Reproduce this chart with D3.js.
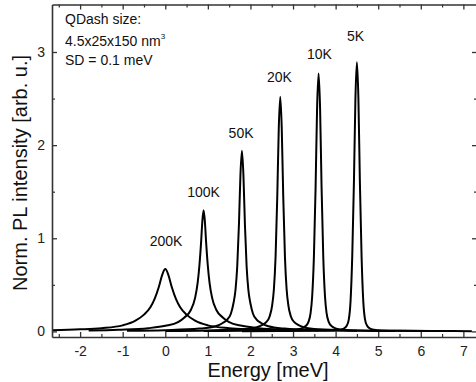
<!DOCTYPE html>
<html>
<head>
<meta charset="utf-8">
<script src="https://cdn.jsdelivr.net/npm/d3@7"></script>
<style>
  body { margin: 0; background: #fff; }
  svg { font-family: "Liberation Sans", Arial, sans-serif; }
</style>
</head>
<body>
<svg class="svg_pl" width="476" height="382"></svg>
<script>
// temperature labels, one per spectrum
var temps = ["200K", "100K", "50K", "20K", "10K", "5K"];

// spectra: energy (meV) and normalised intensity
var energy200K = [-2.7, -2.0, -1.5, -1.0, -0.7, -0.5, -0.35, -0.25, -0.15, -0.07, 0, 0.07, 0.15, 0.25, 0.35, 0.5, 0.7, 1.0, 1.5, 2.0, 2.7];
var pl200K     = [0.012, 0.022, 0.035, 0.065, 0.115, 0.18, 0.26, 0.35, 0.48, 0.61, 0.67, 0.61, 0.48, 0.35, 0.26, 0.18, 0.115, 0.065, 0.035, 0.022, 0.012];

var energy100K = [-1.8, -1.1, -0.4, 0.0, 0.3, 0.45, 0.6, 0.7, 0.76, 0.8, 0.84, 0.87, 0.9, 0.93, 0.96, 1.0, 1.04, 1.1, 1.2, 1.35, 1.5, 1.8, 2.2, 2.9, 3.6];
var pl100K     = [0.009, 0.018, 0.035, 0.06, 0.1, 0.15, 0.23, 0.36, 0.52, 0.7, 0.95, 1.18, 1.3, 1.18, 0.95, 0.7, 0.52, 0.36, 0.23, 0.15, 0.1, 0.06, 0.035, 0.018, 0.009];

var energy50K = [-0.9, 0.0, 0.8, 1.18, 1.35, 1.46, 1.54, 1.6, 1.65, 1.69, 1.73, 1.765, 1.8, 1.835, 1.87, 1.91, 1.95, 2.0, 2.06, 2.14, 2.25, 2.42, 2.8, 3.6, 4.5];
var pl50K     = [0.006, 0.013, 0.03, 0.055, 0.09, 0.13, 0.19, 0.3, 0.45, 0.7, 1.15, 1.68, 1.94, 1.68, 1.15, 0.7, 0.45, 0.3, 0.19, 0.13, 0.09, 0.055, 0.03, 0.013, 0.006];

var energy20K = [0.0, 1.0, 1.8, 2.15, 2.28, 2.37, 2.45, 2.51, 2.55, 2.59, 2.63, 2.665, 2.7, 2.735, 2.77, 2.81, 2.85, 2.89, 2.95, 3.03, 3.12, 3.25, 3.6, 4.4, 5.4];
var pl20K     = [0.005, 0.01, 0.022, 0.045, 0.07, 0.1, 0.16, 0.28, 0.45, 0.8, 1.45, 2.18, 2.52, 2.18, 1.45, 0.8, 0.45, 0.28, 0.16, 0.1, 0.07, 0.045, 0.022, 0.01, 0.005];

var energy10K = [0.9, 1.8, 2.6, 3.0, 3.18, 3.29, 3.36, 3.41, 3.45, 3.49, 3.53, 3.565, 3.6, 3.635, 3.67, 3.71, 3.75, 3.79, 3.84, 3.91, 4.02, 4.2, 4.6, 5.4, 6.3];
var pl10K     = [0.004, 0.006, 0.01, 0.016, 0.03, 0.055, 0.1, 0.19, 0.38, 0.8, 1.55, 2.4, 2.77, 2.4, 1.55, 0.8, 0.38, 0.19, 0.1, 0.055, 0.03, 0.016, 0.01, 0.006, 0.004];

var energy5K = [1.8, 2.7, 3.5, 3.9, 4.1, 4.19, 4.26, 4.31, 4.35, 4.39, 4.43, 4.465, 4.5, 4.535, 4.57, 4.61, 4.65, 4.69, 4.74, 4.81, 4.9, 5.1, 5.5, 6.3, 7.2];
var pl5K     = [0.003, 0.004, 0.006, 0.01, 0.018, 0.03, 0.06, 0.13, 0.32, 0.8, 1.6, 2.5, 2.89, 2.5, 1.6, 0.8, 0.32, 0.13, 0.06, 0.03, 0.018, 0.01, 0.006, 0.004, 0.003];

// label anchor (energy, intensity) for each temperature
var labelEnergy = [0.02, 0.9, 1.78, 2.68, 3.62, 4.47];
var labelLevel  = [0.92, 1.44, 2.08, 2.68, 2.93, 3.12];

var xTicks = [-2, -1, 0, 1, 2, 3, 4, 5, 6, 7];
var xMinor = [-2.5, -1.5, -0.5, 0.5, 1.5, 2.5, 3.5, 4.5, 5.5, 6.5];
var yTicks = [0, 1, 2, 3];
var yMinor = [0.5, 1.5, 2.5];

var spectra = [
  {t: temps[0], e: energy200K, v: pl200K},
  {t: temps[1], e: energy100K, v: pl100K},
  {t: temps[2], e: energy50K,  v: pl50K},
  {t: temps[3], e: energy20K,  v: pl20K},
  {t: temps[4], e: energy10K,  v: pl10K},
  {t: temps[5], e: energy5K,   v: pl5K}
];

var svg = d3.select(".svg_pl"),
    plotLeft = 52, plotRight = 477, plotTop = 4.5, plotBottom = 337;

var x = d3.scaleLinear().domain([-2.66, 7.32]).range([plotLeft, plotRight]);
var y = d3.scaleLinear().domain([-0.06, 3.51]).range([plotBottom, plotTop]);

var axisColor = "#333";

svg.append("clipPath").attr("id", "plotclip")
  .append("rect")
    .attr("x", plotLeft).attr("y", plotTop)
    .attr("width", plotRight - plotLeft).attr("height", plotBottom - plotTop);

// the spectra
var line = d3.line()
    .x(function(d) { return x(d[0]); })
    .y(function(d) { return y(d[1]); })
    .curve(d3.curveMonotoneX);

svg.append("g")
    .attr("clip-path", "url(#plotclip)")
  .selectAll("path")
    .data(spectra)
  .enter().append("path")
    .attr("fill", "none")
    .attr("stroke", "#000")
    .attr("stroke-width", 2)
    .attr("stroke-linejoin", "round")
    .attr("d", function(s) { return line(s.e.map(function(e, i) { return [e, s.v[i]]; })); });

// frame: ticks point inwards on all four sides
function frameAxis(axis, transform, labels) {
  var g = svg.append("g").attr("transform", transform).call(axis);
  g.select(".domain").attr("stroke", axisColor).attr("stroke-width", 1.6);
  g.selectAll(".tick line").attr("stroke", axisColor).attr("stroke-width", 1.3);
  g.selectAll(".tick text").attr("fill", "#222").style("font-size", "14px");
  if (!labels) g.selectAll(".tick text").remove();
  return g;
}

function minorAxis(axis, transform) {
  var g = svg.append("g").attr("transform", transform).call(axis);
  g.select(".domain").remove();
  g.selectAll(".tick line").attr("stroke", axisColor).attr("stroke-width", 1.2);
  g.selectAll(".tick text").remove();
}

var plain = function(d) { return String(d); };

// bottom
frameAxis(d3.axisBottom(x).tickValues(xTicks).tickSizeInner(-5).tickSizeOuter(0).tickPadding(9)
    .tickFormat(plain), "translate(0," + plotBottom + ")", true);
minorAxis(d3.axisBottom(x).tickValues(xMinor).tickSize(-3), "translate(0," + plotBottom + ")");
// top
frameAxis(d3.axisTop(x).tickValues(xTicks).tickSizeInner(-5).tickSizeOuter(0), "translate(0," + plotTop + ")", false);
minorAxis(d3.axisTop(x).tickValues(xMinor).tickSize(-3), "translate(0," + plotTop + ")");
// left
frameAxis(d3.axisLeft(y).tickValues(yTicks).tickSizeInner(-5).tickSizeOuter(0).tickPadding(7)
    .tickFormat(plain), "translate(" + plotLeft + ",0)", true);
minorAxis(d3.axisLeft(y).tickValues(yMinor).tickSize(-3), "translate(" + plotLeft + ",0)");
// right
frameAxis(d3.axisRight(y).tickValues(yTicks).tickSizeInner(-5).tickSizeOuter(0), "translate(" + plotRight + ",0)", false);
minorAxis(d3.axisRight(y).tickValues(yMinor).tickSize(-3), "translate(" + plotRight + ",0)");

// axis titles
svg.append("text")
    .attr("x", 268).attr("y", 377)
    .attr("text-anchor", "middle")
    .style("font-size", "20px")
    .attr("fill", "#111")
    .text("Energy [meV]");

svg.append("text")
    .attr("transform", "translate(27,173) rotate(-90)")
    .attr("text-anchor", "middle")
    .style("font-size", "20px")
    .attr("fill", "#111")
    .text("Norm. PL intensity [arb. u.]");

// temperature labels
svg.selectAll(".tlabel")
    .data(temps)
  .enter().append("text")
    .attr("class", "tlabel")
    .attr("x", function(d, i) { return x(labelEnergy[i]); })
    .attr("y", function(d, i) { return y(labelLevel[i]); })
    .attr("text-anchor", "middle")
    .style("font-size", "14px")
    .attr("fill", "#111")
    .text(function(d) { return d; });

// sample description
var info = svg.append("g").style("font-size", "14px").attr("fill", "#111");
info.append("text").attr("x", 65).attr("y", 24).text("QDash size:");
var l2 = info.append("text").attr("x", 65).attr("y", 45.5).text("4.5x25x150 nm");
l2.append("tspan").attr("dy", -7).style("font-size", "8px").text("3");
info.append("text").attr("x", 65).attr("y", 65).text("SD = 0.1 meV");
</script>
</body>
</html>
